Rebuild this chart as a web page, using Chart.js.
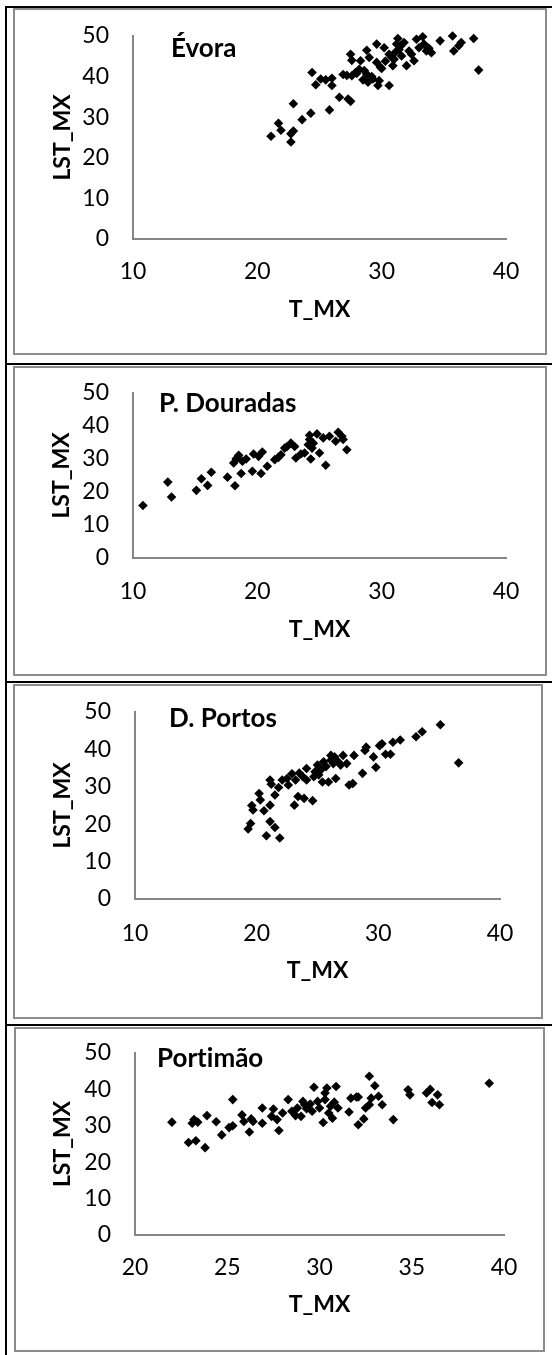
<!DOCTYPE html>
<html>
<head>
<meta charset="utf-8">
<script src="https://cdn.jsdelivr.net/npm/chart.js@4.4.0/dist/chart.umd.min.js"></script>
<style>
  body { margin: 0; background: #fff; width: 552px; height: 1355px; position: relative; overflow: hidden; }
  .rule { position: absolute; background: #000; }
  .box { position: absolute; box-sizing: border-box; border: 2px solid #8c8c8c; }
  canvas { position: absolute; }
  .ttl { position: absolute; font: bold 26px Lato, sans-serif; line-height: 26px; white-space: nowrap; color: #000;
         font-variant-ligatures: none; }
</style>
</head>
<body>
<script>
/* 
   DATA
 */
const yTicks = [0, 10, 20, 30, 40, 50];

const evoraX = [21.1, 21.7, 21.9, 22.7, 22.7, 22.9, 22.9, 23.6, 24.3, 24.4, 24.7, 25.1, 25.5, 25.8, 26.0, 26.0,
                26.6, 26.9, 27.3, 27.5, 27.5, 27.6, 27.6, 27.9, 28.2, 28.3, 28.5, 28.8, 28.8, 28.9, 29.0, 29.3,
                29.6, 29.7, 29.8, 29.6, 29.9, 30.2, 30.3, 30.6, 30.6, 30.9, 31.0, 31.2, 31.3, 31.4, 31.6, 31.8,
                32.0, 32.2, 32.6, 32.8, 33.0, 33.3, 33.4, 33.6, 34.0, 34.7, 35.7, 35.8, 36.2, 36.4, 37.4, 37.8,
                28.0, 28.6, 30.0, 30.8, 31.5, 32.4, 33.8, 27.2, 29.2, 31.1];
const evoraY = [25.3, 28.5, 26.8, 23.9, 25.9, 26.6, 33.3, 29.4, 31.0, 41.0, 38.0, 39.4, 39.2, 31.8, 37.8, 39.6,
                34.9, 40.5, 34.5, 33.9, 45.5, 44.0, 40.2, 41.0, 41.8, 43.9, 39.2, 46.5, 40.6, 38.6, 44.7, 39.4,
                48.0, 37.8, 39.0, 43.5, 42.3, 47.1, 43.8, 37.8, 45.5, 42.7, 44.3, 48.0, 49.4, 46.7, 45.1, 48.4,
                42.7, 46.3, 43.9, 49.2, 47.1, 49.8, 48.0, 46.3, 45.9, 48.8, 50.0, 46.3, 47.6, 48.4, 49.4, 41.6,
                40.8, 41.5, 42.0, 44.8, 47.5, 45.5, 47.0, 40.3, 40.0, 46.0];

const douradasX = [10.8, 12.8, 13.1, 15.1, 15.5, 16.0, 16.3, 17.6, 18.2, 18.1, 18.3, 18.5, 18.7, 18.8, 19.1, 19.6,
                   19.7, 20.1, 20.3, 20.4, 20.8, 21.4, 21.7, 21.9, 22.2, 22.4, 22.7, 23.0, 23.1, 23.5, 23.8, 24.1,
                   24.2, 24.2, 24.3, 24.4, 24.5, 24.8, 25.0, 25.3, 25.5, 25.8, 26.3, 26.5, 26.8, 26.9, 27.2];
const douradasY = [15.9, 23.0, 18.5, 20.5, 24.0, 22.0, 26.0, 24.5, 21.9, 28.8, 30.1, 31.1, 25.6, 29.3, 30.0, 26.3,
                   31.5, 30.8, 25.6, 32.1, 27.8, 29.8, 30.5, 31.3, 33.3, 33.8, 34.8, 33.8, 30.3, 31.5, 31.8, 34.3,
                   35.9, 37.2, 30.0, 33.3, 34.8, 37.6, 31.8, 36.4, 28.1, 36.9, 35.4, 38.1, 36.9, 35.9, 32.8];

const portosX = [19.3, 19.5, 19.6, 19.7, 20.2, 20.3, 20.6, 20.8, 21.1, 21.1, 21.1, 21.2, 21.5, 21.5, 21.9, 21.8,
                 22.1, 22.5, 22.6, 22.9, 23.1, 23.2, 23.4, 23.5, 23.8, 23.9, 24.1, 24.1, 24.6, 24.7, 24.8, 25.0,
                 25.1, 25.3, 25.4, 25.5, 25.7, 25.9, 26.1, 26.1, 26.3, 26.4, 26.5, 26.7, 26.9, 27.1, 27.4, 27.6,
                 27.9, 28.0, 28.7, 28.9, 29.0, 29.6, 29.8, 30.1, 30.3, 30.6, 31.0, 31.2, 31.8, 33.1, 33.6, 35.1,
                 36.6];
const portosY = [18.7, 20.2, 25.0, 23.8, 28.2, 26.5, 23.6, 16.9, 31.8, 25.1, 20.7, 30.7, 27.8, 19.1, 16.3, 29.8,
                 31.8, 32.2, 30.5, 33.5, 25.1, 31.8, 27.4, 33.7, 32.7, 26.9, 31.8, 34.9, 26.3, 32.7, 34.0, 35.8,
                 33.2, 34.6, 31.3, 36.7, 35.4, 31.3, 38.4, 37.1, 36.2, 38.0, 32.2, 36.7, 35.8, 38.4, 36.2, 30.5,
                 30.9, 38.4, 33.6, 39.7, 40.6, 38.0, 35.2, 41.0, 41.5, 38.7, 38.7, 41.9, 42.5, 43.4, 44.7, 46.6,
                 36.4];

const portimaoX = [22.0, 22.9, 23.1, 23.2, 23.3, 23.4, 23.8, 23.9, 24.4, 24.7, 25.1, 25.3, 25.3, 25.8, 25.9, 26.2,
                   26.3, 26.4, 26.9, 26.9, 27.5, 27.4, 27.7, 27.8, 28.0, 28.3, 28.5, 28.7, 28.8, 29.0, 29.1, 29.2,
                   29.3, 29.5, 29.6, 29.7, 29.9, 30.0, 30.2, 30.3, 30.3, 30.4, 30.5, 30.6, 30.7, 30.8, 30.9, 31.0,
                   31.6, 31.7, 32.0, 32.1, 32.1, 32.4, 32.5, 32.7, 32.7, 32.8, 33.0, 33.2, 33.4, 34.0, 34.8, 34.9,
                   35.8, 36.0, 36.1, 36.4, 36.5, 39.2];
const portimaoY = [31.0, 25.4, 30.7, 31.7, 25.9, 31.0, 24.0, 32.8, 31.1, 27.5, 29.5, 37.2, 30.0, 33.0, 31.2, 28.3,
                   31.9, 31.2, 30.7, 34.9, 34.6, 32.6, 31.7, 28.7, 33.5, 37.2, 34.0, 32.8, 34.9, 32.6, 36.7, 35.8,
                   34.7, 36.0, 34.0, 40.6, 36.7, 34.9, 30.9, 39.0, 37.2, 40.4, 33.5, 35.4, 32.1, 36.5, 40.8, 34.9,
                   33.8, 37.6, 37.9, 30.3, 37.9, 31.9, 34.9, 43.6, 35.8, 37.6, 41.0, 38.1, 35.8, 31.7, 39.9, 38.5,
                   39.0, 40.0, 36.4, 38.5, 35.8, 41.7];

const stations   = ['Évora', 'P. Douradas', 'D. Portos', 'Portimão'];
const seriesX    = [evoraX, douradasX, portosX, portimaoX];
const seriesY    = [evoraY, douradasY, portosY, portimaoY];
const xMins      = [10, 10, 10, 20];
const xMaxs      = [40, 40, 40, 40];
const xSteps     = [10, 10, 10, 5];

/* 
   LAYOUT (page pixels)
 */
const panels = [
    { box: [13, 8, 547, 355],     area: [133, 36, 506, 239],     ttl: [171, 47],   yTitleX: 63, xTickY: 272,  xTitleY: 310 },
    { box: [13, 366, 547, 676],   area: [133, 393, 506, 558],    ttl: [159, 402],  yTitleX: 62, xTickY: 592,  xTitleY: 630 },
    { box: [13, 684, 543, 1019],  area: [135, 712, 500, 899],    ttl: [169, 717],  yTitleX: 63, xTickY: 934,  xTitleY: 971 },
    { box: [14, 1027, 545, 1352], area: [135, 1053, 504, 1235],  ttl: [157, 1057], yTitleX: 63, xTickY: 1268, xTitleY: 1305 }
];

// black table rules
[[5, 6, 2, 1349], [5, 6, 547, 2], [5, 363, 547, 2], [5, 681, 547, 2], [5, 1024, 547, 2]].forEach(r => {
    const d = document.createElement('div');
    d.className = 'rule';
    d.style.cssText = `left:${r[0]}px;top:${r[1]}px;width:${r[2]}px;height:${r[3]}px`;
    document.body.appendChild(d);
});

const FONT = 'Lato';
const TICK_FS = 23;
const TITLE_FS = 23;
const axisColor = '#868686';

panels.forEach((p, i) => {
    const [bl, bt, br, bb] = p.box;
    const box = document.createElement('div');
    box.className = 'box';
    box.style.cssText = `left:${bl}px;top:${bt}px;width:${br - bl}px;height:${bb - bt}px`;
    document.body.appendChild(box);

    const cx = bl + 2, cy = bt + 2, cw = br - bl - 4, ch = bb - bt - 4;
    const cv = document.createElement('canvas');
    cv.width = cw; cv.height = ch;
    cv.style.left = cx + 'px'; cv.style.top = cy + 'px';
    document.body.appendChild(cv);

    const aL = p.area[0] - cx, aT = p.area[1] - cy, aR = p.area[2] - cx, aB = p.area[3] - cy;
    const padL = p.yTitleX - cx - TITLE_FS / 2;
    const padB = ch - (p.xTitleY - cy) - TITLE_FS / 2;
    const yW = aL - padL;
    const xH = (ch - padB) - aB;

    new Chart(cv.getContext('2d'), {
        type: 'scatter',
        data: {
            datasets: [{
                data: seriesX[i].map((x, k) => ({ x: x, y: seriesY[i][k] })),
                pointStyle: 'rectRot',
                pointRadius: 4.8,
                backgroundColor: '#000',
                borderWidth: 0,
                clip: false
            }]
        },
        options: {
            responsive: false,
            animation: false,
            layout: { padding: { left: padL, top: aT, right: cw - aR, bottom: padB } },
            plugins: { legend: { display: false }, tooltip: { enabled: false } },
            scales: {
                x: {
                    type: 'linear',
                    min: xMins[i], max: xMaxs[i],
                    afterFit: s => { s.height = xH; s.paddingLeft = 0; s.paddingRight = 0; },
                    ticks: { stepSize: xSteps[i], color: '#000', padding: p.xTickY - p.area[3] - TICK_FS / 2,
                             font: { family: FONT, size: TICK_FS, lineHeight: 1 } },
                    grid: { display: false, drawTicks: false },
                    border: { display: true, color: axisColor, width: 2 },
                    title: { display: true, text: 'T_MX', color: '#000', padding: 0,
                             font: { family: FONT, size: TITLE_FS, weight: 'bold', lineHeight: 1 } }
                },
                y: {
                    min: 0, max: 50,
                    afterFit: s => { s.width = yW; s.paddingTop = 0; s.paddingBottom = 0; },
                    afterBuildTicks: s => { s.ticks = yTicks.map(v => ({ value: v })); },
                    ticks: { color: '#000', padding: 24, font: { family: FONT, size: TICK_FS, lineHeight: 1 } },
                    grid: { display: false, drawTicks: false },
                    border: { display: true, color: axisColor, width: 2 },
                    title: { display: true, text: 'LST_MX', color: '#000', padding: 0,
                             font: { family: FONT, size: TITLE_FS, weight: 'bold', lineHeight: 1 } }
                }
            }
        }
    });

    const t = document.createElement('div');
    t.className = 'ttl';
    t.textContent = stations[i];
    t.style.left = p.ttl[0] + 'px';
    t.style.top = (p.ttl[1] - 13) + 'px';
    document.body.appendChild(t);
});
</script>
</body>
</html>
